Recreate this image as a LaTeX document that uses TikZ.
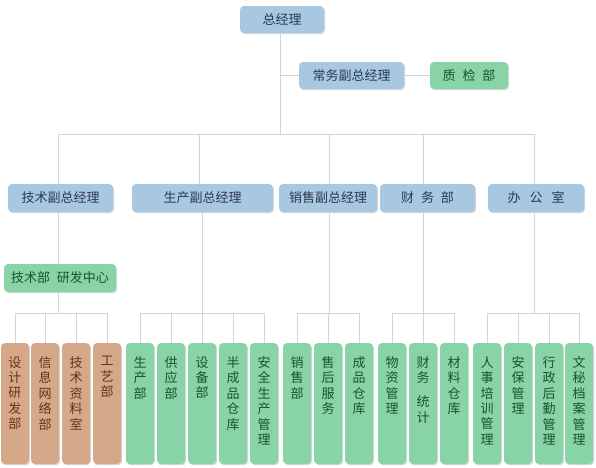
\documentclass[tikz,border=0pt]{standalone}
\usepackage{fontspec}
\setmainfont{Noto Sans CJK SC}
\usetikzlibrary{shadows}
\definecolor{bfill}{HTML}{A8C8E1}
\definecolor{gfill}{HTML}{88D4A7}
\definecolor{rfill}{HTML}{D5A889}
\definecolor{btext}{HTML}{2A3A4C}
\definecolor{gtext}{HTML}{17552B}
\definecolor{rtext}{HTML}{663313}
\definecolor{lcol}{HTML}{D4D4D4}
\tikzset{
  basebox/.style={rounded corners=4pt, inner sep=0pt, font=\fontsize{13}{15}\selectfont,
    drop shadow={shadow xshift=1pt, shadow yshift=-1.2pt, opacity=0.25, fill=black!60}},
  bluebox/.style={basebox, fill=bfill, text=btext, minimum height=27pt},
  greenbox/.style={basebox, fill=gfill, text=gtext, minimum height=28pt},
  vbrown/.style={basebox, fill=rfill, minimum width=28pt, minimum height=121pt},
  vgreen/.style={basebox, fill=gfill, minimum width=28pt, minimum height=121pt},
  vtext/.style={anchor=north, inner sep=0pt, align=center, font=\fontsize{13}{15.4}\selectfont},
  conn/.style={draw=lcol, line width=0.8pt},
}
\newcommand{\vlabel}[3]{\node[vtext, text=#3] (t#1) at ([yshift=-13.5pt]#1.north) {#2};}
\begin{document}
\begin{tikzpicture}[x=1pt,y=-1pt]
\useasboundingbox (0,0) rectangle (596,467);
\fill[white] (0,0) rectangle (596,467);
\coordinate (tb) at (0,134);
\coordinate (bb) at (0,313);

% top
\node[bluebox, minimum width=84pt] (zjl) at (282,19.5) {总经理};
\node[bluebox, minimum width=105pt] (cw) at (351.5,75.5) {常务副总经理};
\node[greenbox, minimum width=78pt, minimum height=27pt] (zj) at (469,75.5) {质\hspace{7pt}检\hspace{7pt}部};

% second row
\node[bluebox, minimum width=105pt, minimum height=28pt] (js) at (60.5,198) {技术副总经理};
\node[bluebox, minimum width=141pt, minimum height=28pt] (sc) at (202.5,198) {生产副总经理};
\node[bluebox, minimum width=98pt, minimum height=28pt] (xs) at (328,198) {销售副总经理};
\node[bluebox, minimum width=95pt, minimum height=28pt] (cwb) at (427.5,198) {财\hspace{7pt}务\hspace{7pt}部};
\node[bluebox, minimum width=96pt, minimum height=28pt] (bgs) at (536,198) {办\hspace{9pt}公\hspace{9pt}室};

\node[greenbox, minimum width=112pt] (yf) at (60,278) {技术部\hspace{7pt}研发中心};

% bottom boxes
\foreach \n/\x in {b1/15,b2/45,b3/76,b4/107}{\node[vbrown] (\n) at (\x,403.5) {};}
\foreach \n/\x in {c1/140,c2/171,c3/202,c4/233,c5/264,d1/297,d2/328,d3/359,e1/392,e2/423,e3/454,f1/487,f2/518,f3/549,f4/579}{\node[vgreen] (\n) at (\x,403.5) {};}

\vlabel{b1}{设\\计\\研\\发\\部}{rtext}
\vlabel{b2}{信\\息\\网\\络\\部}{rtext}
\vlabel{b3}{技\\术\\资\\料\\室}{rtext}
\vlabel{b4}{工\\艺\\部}{rtext}
\vlabel{c1}{生\\产\\部}{gtext}
\vlabel{c2}{供\\应\\部}{gtext}
\vlabel{c3}{设\\备\\部}{gtext}
\vlabel{c4}{半\\成\\品\\仓\\库}{gtext}
\vlabel{c5}{安\\全\\生\\产\\管\\理}{gtext}
\vlabel{d1}{销\\售\\部}{gtext}
\vlabel{d2}{售\\后\\服\\务}{gtext}
\vlabel{d3}{成\\品\\仓\\库}{gtext}
\vlabel{e1}{物\\资\\管\\理}{gtext}
\vlabel{e2}{财\\务\\[8.5pt]统\\计}{gtext}
\vlabel{e3}{材\\料\\仓\\库}{gtext}
\vlabel{f1}{人\\事\\培\\训\\管\\理}{gtext}
\vlabel{f2}{安\\保\\管\\理}{gtext}
\vlabel{f3}{行\\政\\后\\勤\\管\\理}{gtext}
\vlabel{f4}{文\\秘\\档\\案\\管\\理}{gtext}

% connectors
\draw[conn] ([xshift=-2pt]zjl.south) -- ([xshift=-2pt]zjl.south |- tb);
\draw[conn] ([xshift=-2pt]zjl.south |- cw.west) -- (cw.west);
\draw[conn] (cw.east) -- (zj.west);
\draw[conn] ([xshift=-2.5pt]js.north |- tb) -- ([xshift=-2pt]bgs.north |- tb);
\draw[conn] ([xshift=-2.5pt]js.north |- tb) -- ([xshift=-2.5pt]js.north);
\draw[conn] ([xshift=-3pt]sc.north |- tb) -- ([xshift=-3pt]sc.north);
\draw[conn] ([xshift=1pt]xs.north |- tb) -- ([xshift=1pt]xs.north);
\draw[conn] ([xshift=-4.5pt]cwb.north |- tb) -- ([xshift=-4.5pt]cwb.north);
\draw[conn] ([xshift=-2pt]bgs.north |- tb) -- ([xshift=-2pt]bgs.north);
% tech
\draw[conn] ([xshift=-2.5pt]js.south) -- ([xshift=-2pt]yf.north);
\draw[conn] ([xshift=-2pt]yf.south) -- ([xshift=-2pt]yf.south |- bb);
\draw[conn] (b1.north |- bb) -- (b4.north |- bb);
\foreach \n in {b1,b2,b3,b4}{\draw[conn] (\n.north |- bb) -- (\n.north);}
% production
\draw[conn] (sc.south) -- (sc.south |- bb);
\draw[conn] (c1.north |- bb) -- (c5.north |- bb);
\foreach \n in {c1,c2,c3,c4,c5}{\draw[conn] (\n.north |- bb) -- (\n.north);}
% sales
\draw[conn] ([xshift=1pt]xs.south) -- ([xshift=1pt]xs.south |- bb);
\draw[conn] (d1.north |- bb) -- (d3.north |- bb);
\foreach \n in {d1,d2,d3}{\draw[conn] (\n.north |- bb) -- (\n.north);}
% finance
\draw[conn] ([xshift=-4.5pt]cwb.south) -- ([xshift=-4.5pt]cwb.south |- bb);
\draw[conn] (e1.north |- bb) -- (e3.north |- bb);
\foreach \n in {e1,e2,e3}{\draw[conn] (\n.north |- bb) -- (\n.north);}
% office
\draw[conn] ([xshift=-2pt]bgs.south) -- ([xshift=-2pt]bgs.south |- bb);
\draw[conn] (f1.north |- bb) -- (f4.north |- bb);
\foreach \n in {f1,f2,f3,f4}{\draw[conn] (\n.north |- bb) -- (\n.north);}
\end{tikzpicture}
\end{document}
